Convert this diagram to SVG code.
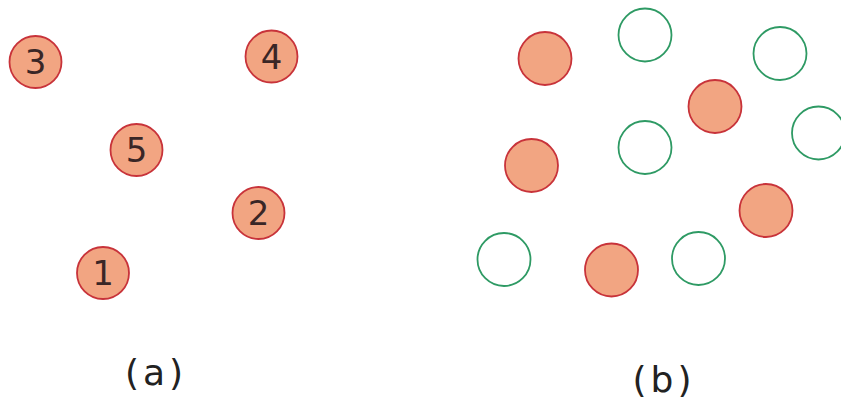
<svg xmlns="http://www.w3.org/2000/svg" width="841" height="401" viewBox="0 0 841 401">
<style>
.o{fill:#f2a582;stroke:#c8333a;stroke-width:1.8}
.g{fill:#fff;stroke:#2e9a64;stroke-width:1.8}
.n{font-family:"DejaVu Sans",Verdana,sans-serif;font-size:34px;fill:#3a2626;text-anchor:middle}
.l{font-family:"DejaVu Sans",Verdana,sans-serif;font-size:36px;fill:#222;text-anchor:middle;letter-spacing:4px}
</style>
<rect width="841" height="401" fill="#fff"/>
<g id="node3"><circle class="o" cx="35.5" cy="62" r="26"/><text class="n" x="35.5" y="74">3</text></g>
<g id="node4"><circle class="o" cx="271.5" cy="56.5" r="26"/><text class="n" x="271.5" y="68.5">4</text></g>
<g id="node5"><circle class="o" cx="136.5" cy="150" r="26"/><text class="n" x="136.5" y="162">5</text></g>
<g id="node2"><circle class="o" cx="258.5" cy="213" r="26"/><text class="n" x="258.5" y="225">2</text></g>
<g id="node1"><circle class="o" cx="103" cy="273" r="26"/><text class="n" x="103" y="285">1</text></g>
<g id="b-o1"><circle class="o" cx="545" cy="58.5" r="26.5"/></g>
<g id="b-o2"><circle class="o" cx="715" cy="106.5" r="26.5"/></g>
<g id="b-o3"><circle class="o" cx="531.5" cy="165.5" r="26.5"/></g>
<g id="b-o4"><circle class="o" cx="766" cy="210.5" r="26.5"/></g>
<g id="b-o5"><circle class="o" cx="611.5" cy="270" r="26.5"/></g>
<g id="b-g1"><circle class="g" cx="645" cy="35" r="26.5"/></g>
<g id="b-g2"><circle class="g" cx="780" cy="53.5" r="26.5"/></g>
<g id="b-g3"><circle class="g" cx="818.5" cy="133" r="26.5"/></g>
<g id="b-g4"><circle class="g" cx="645" cy="147.5" r="26.5"/></g>
<g id="b-g5"><circle class="g" cx="504" cy="259.5" r="26.5"/></g>
<g id="b-g6"><circle class="g" cx="698.5" cy="258.5" r="26.5"/></g>
<g id="connectors"></g>
<text class="l" x="156" y="385">(a)</text>
<text class="l" x="664" y="392">(b)</text>
</svg>
